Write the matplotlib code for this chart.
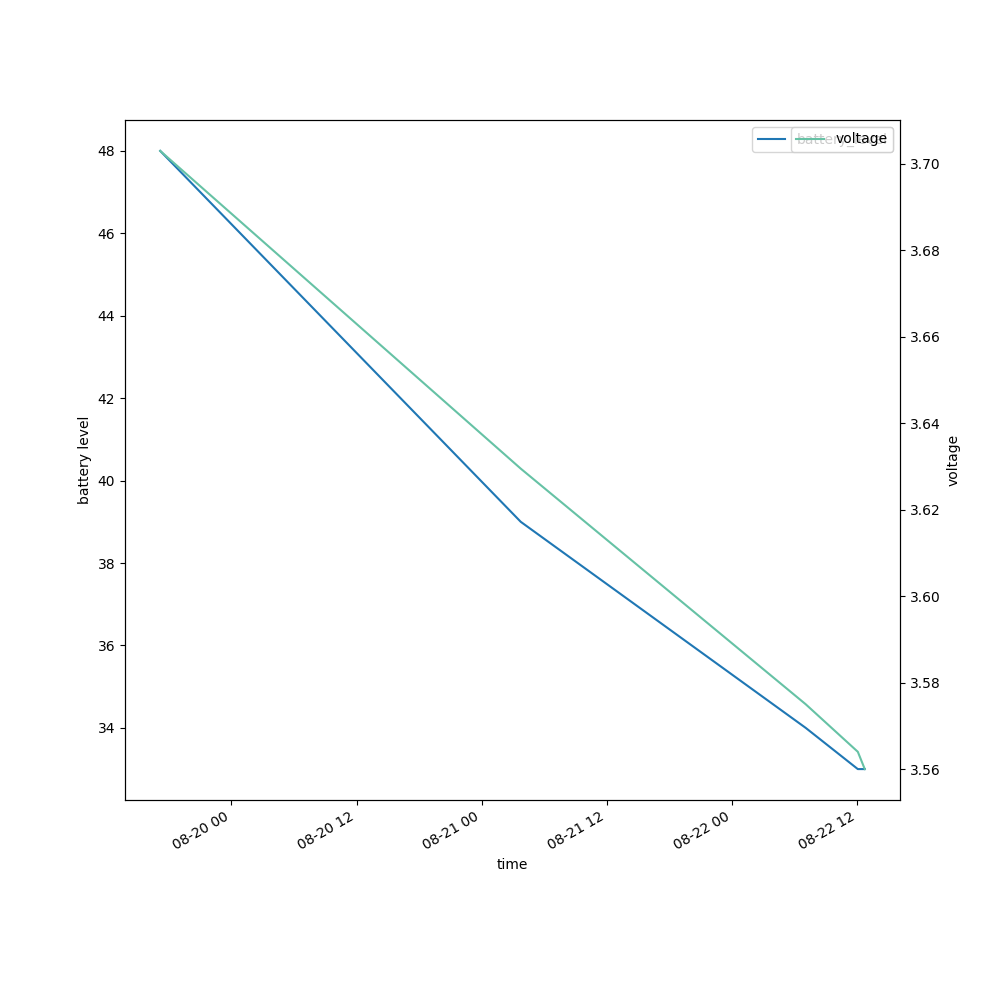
import pandas as pd
import matplotlib
matplotlib.use("Agg")
import matplotlib.pyplot as plt

# readings (times)
times = pd.to_datetime([
    "2023-08-19 17:10",
    "2023-08-21 03:45",
    "2023-08-22 07:05",
    "2023-08-22 12:05",
    "2023-08-22 12:45",
])
battery_level = [48, 39, 34, 33, 33]
voltage = [3.703, 3.6295, 3.575, 3.564, 3.560]

fig, ax1 = plt.subplots(figsize=(10, 10), dpi=100)

ax1.plot(times, battery_level, color="#1f77b4", label="battery_level")
ax1.set_xlabel("time")
ax1.set_ylabel("battery level")
ax1.legend(loc="upper right")

# second axis for voltage
ax2 = ax1.twinx()
ax2.plot(times, voltage, color="#66c2a5", label="voltage")
ax2.set_ylabel("voltage")
ax2.legend(loc="upper right")

fig.autofmt_xdate()

plt.savefig("out.png", dpi=100)
